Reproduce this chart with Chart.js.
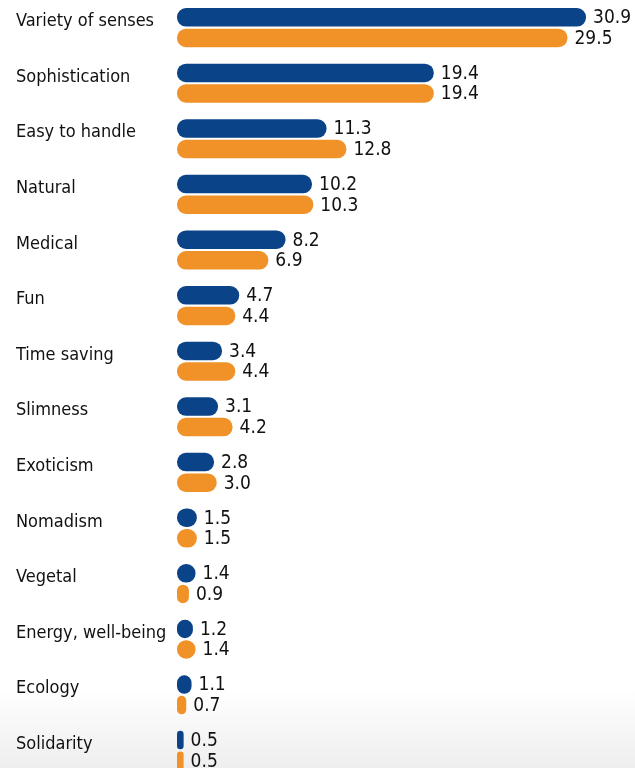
<!DOCTYPE html>
<html>
<head>
<meta charset="utf-8">
<script src="https://cdn.jsdelivr.net/npm/chart.js@4"></script>
<style>
  html, body { margin: 0; padding: 0; overflow: hidden; }
  body {
    width: 635px; height: 768px;
    background: linear-gradient(to bottom, #ffffff 0px, #ffffff 690px, #eeeeee 768px);
  }
  #wrap { position: relative; width: 635px; height: 800px; margin-top: -11px; }
</style>
</head>
<body>
<div id="wrap"><canvas id="chart"></canvas></div>
<script>
const categories = [
  'Variety of senses', 'Sophistication', 'Easy to handle', 'Natural', 'Medical',
  'Fun', 'Time saving', 'Slimness', 'Exoticism', 'Nomadism', 'Vegetal',
  'Energy, well-being', 'Ecology', 'Solidarity'
];
const blueValues   = [30.9, 19.4, 11.3, 10.2, 8.2, 4.7, 3.4, 3.1, 2.8, 1.5, 1.4, 1.2, 1.1, 0.5];
const orangeValues = [29.5, 19.4, 12.8, 10.3, 6.9, 4.4, 4.4, 4.2, 3.0, 1.5, 0.9, 1.4, 0.7, 0.5];

const blue = '#0b4388';
const orange = '#f19229';
const labelFont = "'DejaVu Sans Condensed', sans-serif";

// writes the number just past the end of each bar
const valueLabels = {
  id: 'valueLabels',
  afterDatasetsDraw(chart) {
    const ctx = chart.ctx;
    ctx.save();
    ctx.font = '19px ' + labelFont;
    ctx.fillStyle = '#111111';
    ctx.textAlign = 'left';
    ctx.textBaseline = 'middle';
    chart.data.datasets.forEach((ds, i) => {
      chart.getDatasetMeta(i).data.forEach((bar, j) => {
        ctx.fillText(ds.data[j].toFixed(1), bar.x + 7, bar.y + 1);
      });
    });
    ctx.restore();
  }
};

new Chart(document.getElementById('chart'), {
  type: 'bar',
  data: {
    labels: categories,
    datasets: [
      { data: blueValues, backgroundColor: blue },
      { data: orangeValues, backgroundColor: orange }
    ]
  },
  options: {
    indexAxis: 'y',
    responsive: true,
    maintainAspectRatio: false,
    animation: false,
    layout: { padding: { left: 16, right: 0, top: 0, bottom: 0 } },
    datasets: {
      bar: {
        categoryPercentage: 0.74,
        barPercentage: 0.9,
        borderRadius: 9,
        borderSkipped: false
      }
    },
    plugins: {
      legend: { display: false },
      tooltip: { enabled: false }
    },
    scales: {
      x: {
        min: 0,
        max: 34.6,
        display: false
      },
      y: {
        grid: { display: false, drawTicks: false },
        border: { display: false },
        afterFit(axis) { axis.width = 161; },
        ticks: {
          crossAlign: 'far',
          labelOffset: -6,
          padding: 0,
          color: '#111111',
          font: { family: labelFont, size: 18 }
        }
      }
    }
  },
  plugins: [valueLabels]
});
</script>
</body>
</html>
